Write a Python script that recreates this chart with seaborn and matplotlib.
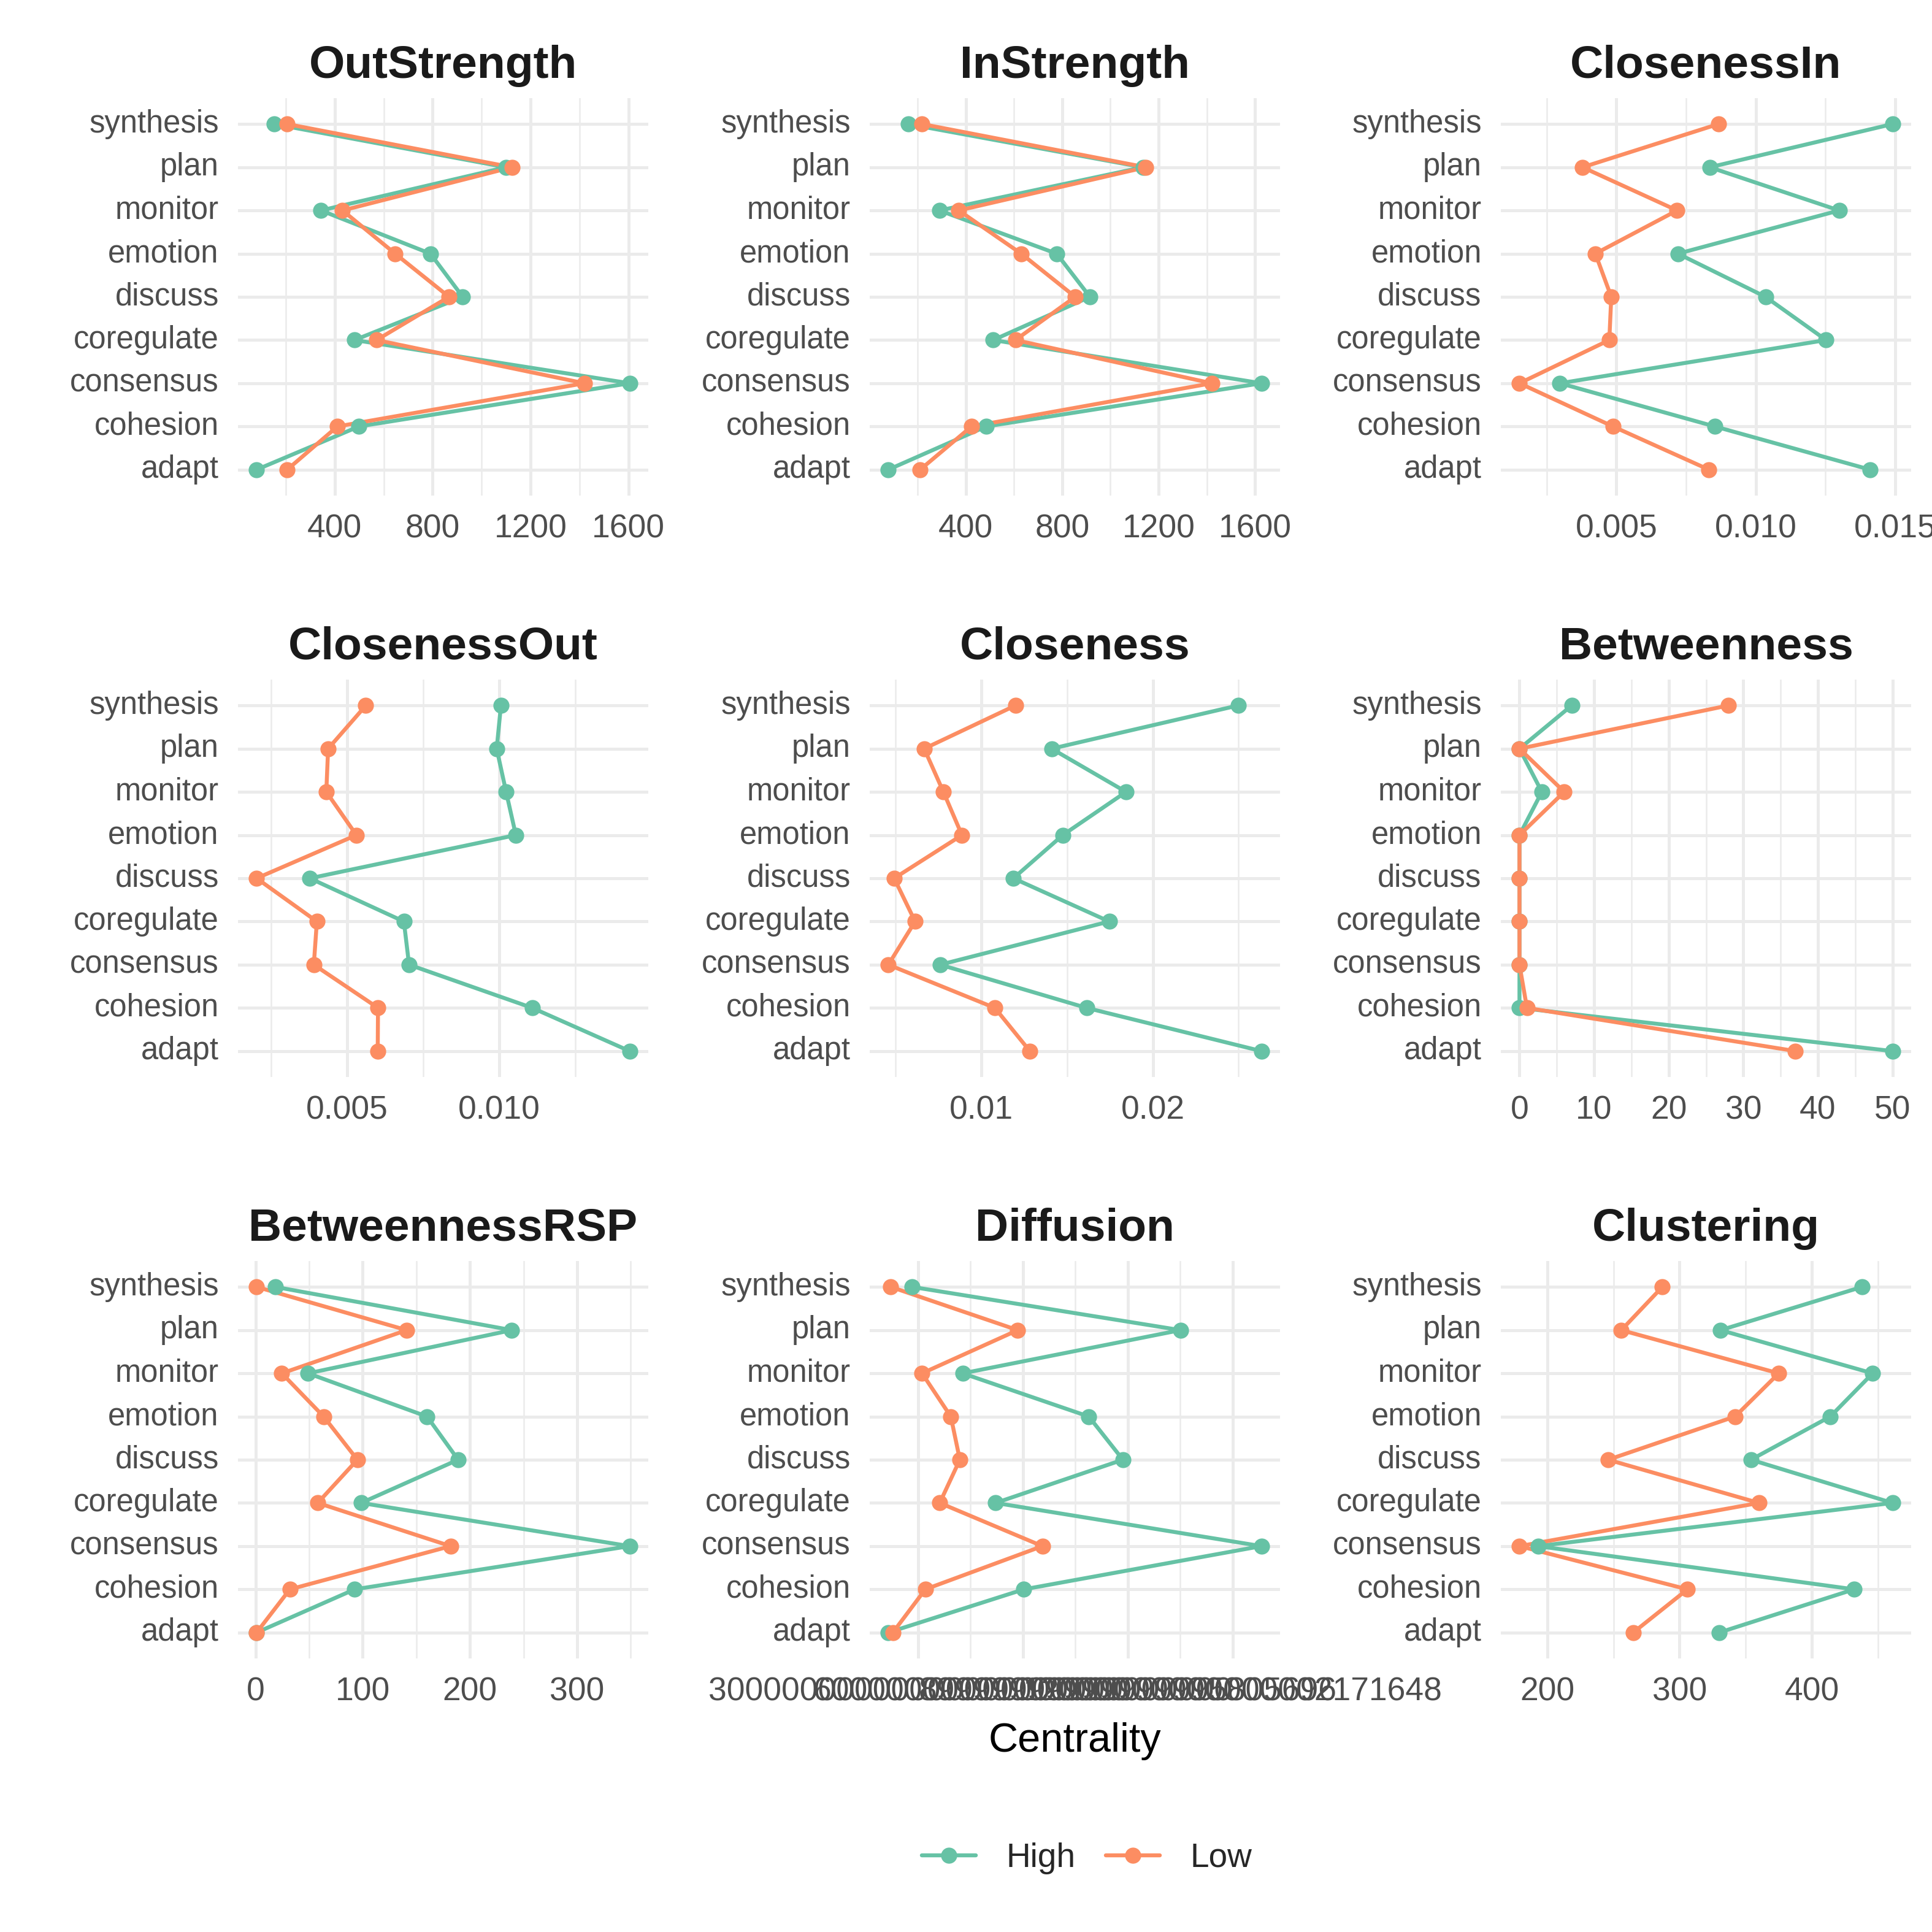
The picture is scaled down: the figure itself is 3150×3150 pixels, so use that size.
import numpy as np
import pandas as pd
import matplotlib
matplotlib.use("Agg")
import matplotlib.pyplot as plt
import seaborn as sns
from matplotlib.lines import Line2D
from matplotlib.ticker import FixedLocator, FixedFormatter, MultipleLocator

# ---------------- data (node order: bottom -> top) ----------------
nodes = ["adapt", "cohesion", "consensus", "coregulate", "discuss",
         "emotion", "monitor", "plan", "synthesis"]
groups = ["High", "Low"]

outstrength_high = [81, 499, 1605, 481, 923, 791, 344, 1100, 153]
outstrength_low = [206, 411, 1420, 571, 867, 647, 432, 1124, 206]

instrength_high = [79, 485, 1626, 514, 915, 777, 291, 1135, 161]
instrength_low = [211, 424, 1420, 606, 854, 630, 371, 1147, 219]

closenessin_high = [0.0141, 0.00853, 0.00298, 0.01252, 0.01035, 0.00721, 0.01299, 0.00835, 0.0149]
closenessin_low = [0.00832, 0.00488, 0.00153, 0.00475, 0.00482, 0.00425, 0.00718, 0.00379, 0.00866]

closenessout_high = [0.01429, 0.01109, 0.00704, 0.00687, 0.00378, 0.01055, 0.01023, 0.00992, 0.01006]
closenessout_low = [0.00601, 0.00602, 0.00391, 0.00401, 0.00203, 0.00531, 0.00432, 0.00438, 0.00562]

closeness_high = [0.02633, 0.01614, 0.0076, 0.01746, 0.01187, 0.01475, 0.01844, 0.0141, 0.02497]
closeness_low = [0.01283, 0.01079, 0.00458, 0.00614, 0.00492, 0.00887, 0.00779, 0.00667, 0.01199]

betweenness_high = [50, 0, 0, 0, 0, 0, 3, 0, 7]
betweenness_low = [37, 1, 0, 0, 0, 0, 6, 0, 28]

betweennessrsp_high = [1, 92.5, 349, 98.5, 189, 160, 49, 239, 18.5]
betweennessrsp_low = [1, 32, 182, 58, 95, 63.5, 24.5, 141, 1]

diffusion_high = [2.154e22, 6.03e22, 1.282e23, 5.22e22, 8.861e22, 7.886e22, 4.28e22, 1.0506e23, 2.836e22]
diffusion_low = [2.283e22, 3.211e22, 6.559e22, 3.623e22, 4.198e22, 3.94e22, 3.117e22, 5.854e22, 2.225e22]

clustering_high = [330, 432, 193, 461, 354, 414, 446, 331, 438]
clustering_low = [265, 306, 179, 360, 246, 342, 375, 256, 287]

# tick values / labels
outstrength_ticks = [400, 800, 1200, 1600]
outstrength_labels = ["400", "800", "1200", "1600"]
instrength_ticks = [400, 800, 1200, 1600]
instrength_labels = ["400", "800", "1200", "1600"]
closenessin_ticks = [0.005, 0.010, 0.015]
closenessin_labels = ["0.005", "0.010", "0.015"]
closenessout_ticks = [0.005, 0.010]
closenessout_labels = ["0.005", "0.010"]
closeness_ticks = [0.01, 0.02]
closeness_labels = ["0.01", "0.02"]
betweenness_ticks = [0, 10, 20, 30, 40, 50]
betweenness_labels = ["0", "10", "20", "30", "40", "50"]
betweennessrsp_ticks = [0, 100, 200, 300]
betweennessrsp_labels = ["0", "100", "200", "300"]
diffusion_ticks = [3e22, 6e22, 9e22, 1.2e23]
diffusion_labels = ["30000000000000000000000", "60000000000000000000000",
                    "89999999999999995805696", "12000000000000002171648"]
clustering_ticks = [200, 300, 400]
clustering_labels = ["200", "300", "400"]

measures = ["OutStrength", "InStrength", "ClosenessIn",
            "ClosenessOut", "Closeness", "Betweenness",
            "BetweennessRSP", "Diffusion", "Clustering"]
series = {
    "OutStrength": (outstrength_high, outstrength_low, outstrength_ticks, outstrength_labels),
    "InStrength": (instrength_high, instrength_low, instrength_ticks, instrength_labels),
    "ClosenessIn": (closenessin_high, closenessin_low, closenessin_ticks, closenessin_labels),
    "ClosenessOut": (closenessout_high, closenessout_low, closenessout_ticks, closenessout_labels),
    "Closeness": (closeness_high, closeness_low, closeness_ticks, closeness_labels),
    "Betweenness": (betweenness_high, betweenness_low, betweenness_ticks, betweenness_labels),
    "BetweennessRSP": (betweennessrsp_high, betweennessrsp_low, betweennessrsp_ticks, betweennessrsp_labels),
    "Diffusion": (diffusion_high, diffusion_low, diffusion_ticks, diffusion_labels),
    "Clustering": (clustering_high, clustering_low, clustering_ticks, clustering_labels),
}

# ---------------- style ----------------
sns.set_theme(style="white")
plt.rcParams["font.family"] = ["Liberation Sans", "DejaVu Sans"]

palette = {"High": "#66C2A5", "Low": "#FC8D62"}
GRID = "#EBEBEB"
TICK_COLOR = "#4D4D4D"

W = H = 3150
fig = plt.figure(figsize=(10.5, 10.5), dpi=300)
fig.patch.set_facecolor("white")

col_left = [388, 1418, 2447]
row_top = [160, 1108, 2056]
pw, ph = 669, 648

order_top_down = nodes[::-1]
n = len(nodes)

for i, m in enumerate(measures):
    r, c = divmod(i, 3)
    left = col_left[c] / W
    bottom = 1 - (row_top[r] + ph) / H
    ax = fig.add_axes([left, bottom, pw / W, ph / H])
    high, low, ticks, labels = series[m]
    df = pd.DataFrame({
        "node": nodes * 2,
        "group": ["High"] * n + ["Low"] * n,
        "value": list(high) + list(low),
    })
    common = dict(data=df, x="value", y="node", hue="group", order=order_top_down,
                  hue_order=groups, palette=palette, orient="h", errorbar=None,
                  dodge=False, legend=False, ax=ax)
    # lines first, then points on top
    sns.pointplot(**common, markers="o", linestyles="-", linewidth=1.55,
                  markersize=0, markeredgewidth=0)
    sns.pointplot(**common, markers="o", linestyles="none", linewidth=1.55,
                  markersize=6.3, markeredgewidth=0)

    vals = np.array(list(high) + list(low), dtype=float)
    lo, hi = vals.min(), vals.max()
    rng = hi - lo
    ax.set_xlim(lo - 0.05 * rng, hi + 0.05 * rng)
    ax.set_ylim(n - 1 + 0.6, -0.6)

    ax.xaxis.set_major_locator(FixedLocator(ticks))
    ax.xaxis.set_major_formatter(FixedFormatter(labels))
    step = ticks[1] - ticks[0]
    ax.xaxis.set_minor_locator(MultipleLocator(step / 2))

    ax.set_axisbelow(True)
    ax.grid(which="major", axis="both", color=GRID, linewidth=1.2)
    ax.grid(which="minor", axis="x", color=GRID, linewidth=0.6)
    for s in ax.spines.values():
        s.set_visible(False)
    ax.tick_params(axis="both", which="both", length=0, labelcolor=TICK_COLOR)
    ax.tick_params(axis="x", pad=7.0, labelsize=12.8)
    ax.tick_params(axis="y", pad=7.5, labelsize=12.2)
    for t in ax.get_yticklabels():
        t.set_verticalalignment("center")
    ax.set_xlabel("")
    ax.set_ylabel("")
    ax.set_facecolor("white")
    ax.set_title(m, fontsize=18, fontweight="bold", color="#1A1A1A", pad=8)

# shared x label
fig.text(1752 / W, 1 - 2856 / H, "Centrality", ha="center", va="baseline",
         fontsize=16, color="black")

# legend
handles = [Line2D([0], [0], color=palette[g], linewidth=1.55, marker="o",
                  markersize=6.3, markeredgewidth=0) for g in groups]
fig.legend(handles, groups, loc="center", bbox_to_anchor=(1772 / W, 1 - 3030 / H),
           ncol=2, frameon=False, fontsize=13.2, handlelength=1.6,
           handletextpad=0.9, columnspacing=0.9)

fig.savefig("out.png", dpi=300, facecolor="white")
